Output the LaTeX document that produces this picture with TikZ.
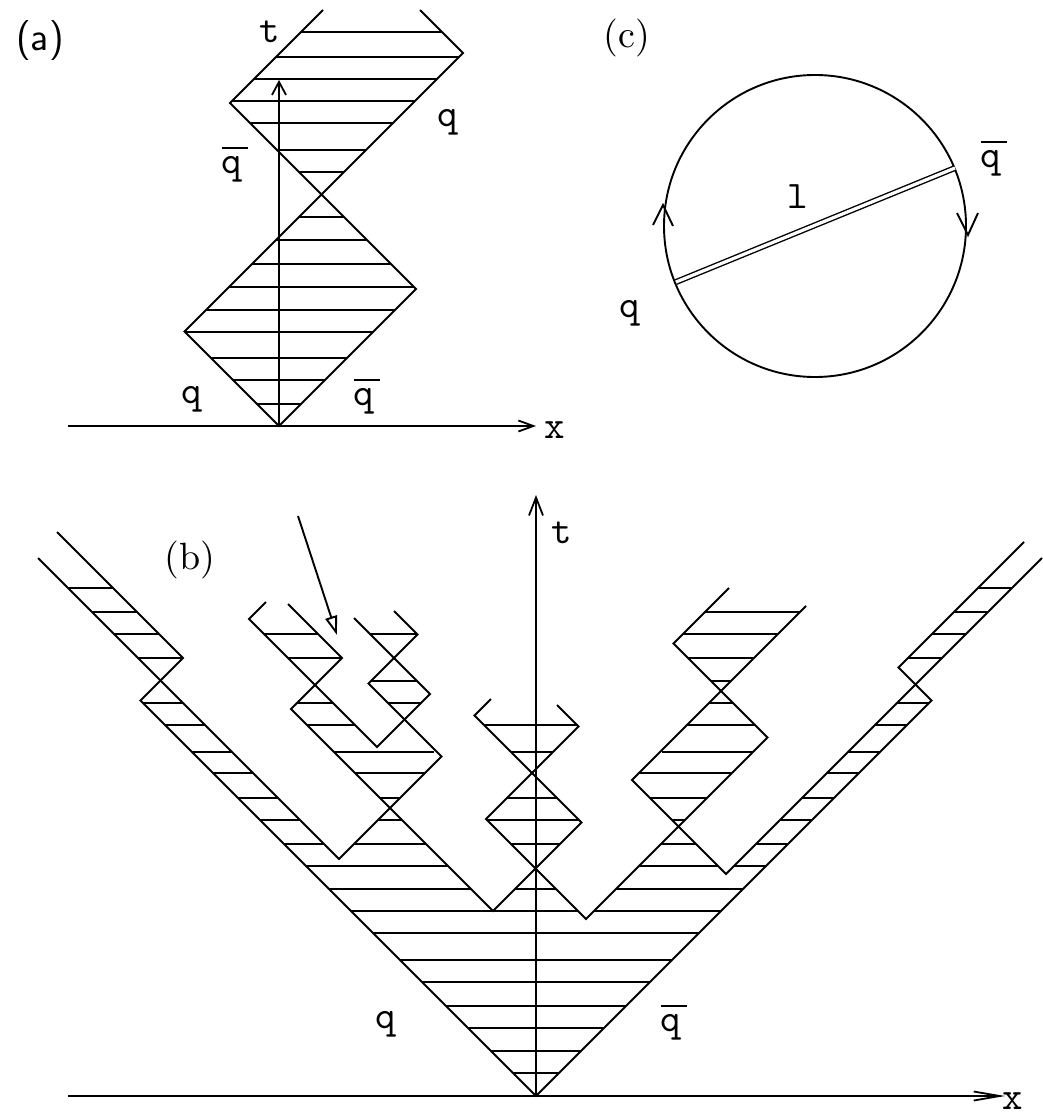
\documentclass[tikz,border=0pt]{standalone}
\usepackage{fontspec}
\newfontfamily\monof{lmmono10-regular}[Extension=.otf]
\newfontfamily\serf{lmroman10-regular}[Extension=.otf]
\usetikzlibrary{arrows.meta}
\newcommand\qbr{\makebox[0pt][l]{\smash{\raisebox{0.62em}{\rule{0.66em}{0.05em}}}}q}
\tikzset{
  wl/.style={line width=1.9pt, line join=miter},
  hatch/.style={line width=2pt},
  axisline/.style={line width=1.8pt},
  lab/.style={font=\monof\fontsize{39}{39}\selectfont, inner sep=0pt},
  tagser/.style={font=\serf\fontsize{38}{38}\selectfont, inner sep=0pt},
  tagsans/.style={font=\sffamily\fontsize{40}{40}\selectfont, inner sep=0pt},
}
\begin{document}
\begin{tikzpicture}[x=1pt,y=-1pt]
\fill[white] (0,0) rectangle (1043,1116);
\useasboundingbox (0,0) rectangle (1043,1116);

% ================= panel (a) =================
\coordinate (Oa) at (279,426);
\draw[axisline,-{Straight Barb[length=15pt,width=11pt]}] (68,426) -- (536,426);
\draw[axisline,-{Straight Barb[length=13pt,width=14pt]}] (Oa) -- (279,80);
\draw[wl] (323,10) -- (230,103) -- (416,289) -- (Oa) -- (184.5,331.5) -- (463,53) -- (420,10);
\foreach \y/\a/\b in {404/257/301, 380/233/325, 358/211/347, 332/185/373, 310/206/395,
  287/229/414, 264/252/391, 240/276/367, 217/299/344, 172/299/344, 150/277/366,
  123/250/393, 101/232/415, 79/254/437, 57/276/459, 32/301/442}
  \draw[hatch] (\a,\y) -- (\b,\y);
\node[tagsans] (la) at (40,41) {(a)};
\node[lab] (ta) at (270,32) {t};
\node[lab] (qa1) at (232,169) {\qbr};
\node[lab] (qa2) at (448,122) {q};
\node[lab] (qa3) at (192,399) {q};
\node[lab] (qa4) at (364,401) {\qbr};
\node[lab] (xa) at (555,430) {x};

% ================= panel (c) =================
\coordinate (Cc) at (815,226);
\draw[wl] (Cc) circle[radius=151pt];
\coordinate (ch1) at (676,282);
\coordinate (ch2) at (955,168);
\draw[line width=1.4pt, double, double distance=3.2pt] (ch1) -- (ch2);
\draw[wl] (653,225) -- (663,205) -- (673,226);
\draw[wl] (957,213) -- (968,235) -- (978,213);
\node[tagser] (lc) at (627,38) {(c)};
\node[lab] (lcl) at (798,197) {l};
\node[lab] (qc1) at (991,163) {\qbr};
\node[lab] (qc2) at (630,313) {q};

% ================= panel (b) =================
\coordinate (Ob) at (536,1096);
\draw[axisline,-{Straight Barb[length=26pt,width=9pt]}] (68,1096) -- (1005,1096);
\draw[axisline,-{Straight Barb[length=18pt,width=14pt]}] (Ob) -- (536,495);
% world lines
\draw[wl] (57,532) -- (183,658) -- (140.5,700.5) -- (Ob) -- (931.5,700.5) -- (898.5,667.5) -- (1024,542);
\draw[wl] (38,558) -- (339,859) -- (441.5,756.5) -- (368.5,683.5) -- (417.5,634.5) -- (394,611);
\draw[wl] (266,602) -- (249,619) -- (377,747) -- (430,694) -- (354,618);
\draw[wl] (288,604) -- (342,658) -- (291,709) -- (493,911) -- (581.5,822.5) -- (474.5,715.5) -- (491,699);
\draw[wl] (557,705) -- (578.5,726.5) -- (486,819) -- (586,919) -- (767.5,737.5) -- (673.5,643.5) -- (729,588);
\draw[wl] (806,606) -- (632,780) -- (726,874) -- (1042,558);
% hatching
\foreach \y/\a/\b in {1073/513/559, 1051/491/581, 1028/468/604, 1006/446/626,
  982/422/650, 960/400/672, 933/373/699,
  911/351/578, 911/594/721,
  889/329/471, 889/515/556, 889/616/743,
  866/306/448, 866/639/718, 866/734/766,
  844/284/324, 844/354/426, 844/511/560, 844/661/696, 844/756/788,
  820/260/300, 820/378/402, 820/486/579, 820/672/685, 820/780/812,
  798/238/278, 798/380/400, 798/507/557, 798/650/707, 798/802/834,
  773/213/253, 773/355/425, 773/639/732, 773/827/859,
  752/192/232, 752/334/434, 752/511/553, 752/662/753, 752/848/880,
  725/165/205, 725/307/355, 725/484/578, 725/687/755, 725/875/907,
  703/143/183, 703/297/333, 703/388/421, 703/709/733, 703/897/929,
  681/371/417, 681/711/731,
  658/138/183, 658/288/342, 658/688/754, 658/908/942,
  634/114/159, 634/264/318, 634/370/417, 634/683/778, 634/932/966,
  612/92/137, 612/705/800, 612/954/988,
  588/68/113, 588/978/1012}
  \draw[hatch] (\a,\y) -- (\b,\y);
% pointer arrow
\draw[wl,-{Triangle[open,length=19pt,width=12pt]}] (298,516) -- (337,635);
\node[tagser] (lb) at (190,560) {(b)};
\node[lab] (tb) at (562,533) {t};
\node[lab] (qb1) at (386,1024) {q};
\node[lab] (qb2) at (671,1027) {\qbr};
\node[lab] (xb) at (1013,1101) {x};
\end{tikzpicture}
\end{document}
